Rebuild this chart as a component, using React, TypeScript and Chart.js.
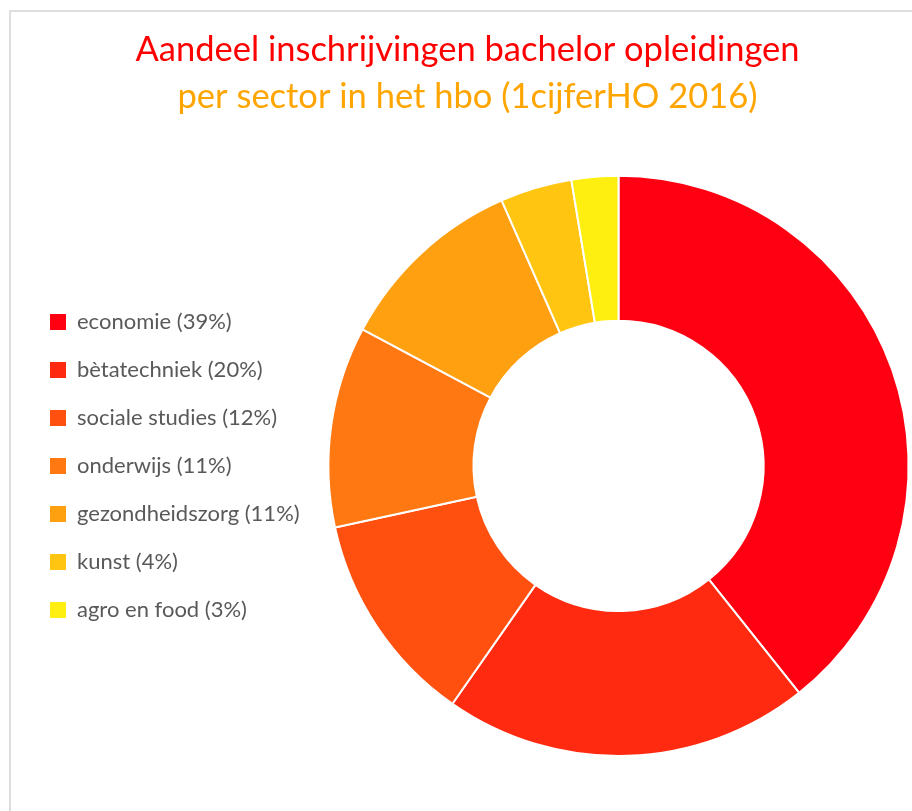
import React, { useEffect, useRef } from "react";
import { Chart, registerables, layouts } from "chart.js";

Chart.register(...registerables);

const TITLE = "Aandeel inschrijvingen bachelor opleidingen";
const SUBTITLE = "per sector in het hbo (1cijferHO 2016)";
const SECTORS = [
  "economie",
  "bètatechniek",
  "sociale studies",
  "onderwijs",
  "gezondheidszorg",
  "kunst",
  "agro en food",
];
const SHARES = [39.3, 20.4, 11.9, 11.2, 10.6, 4.0, 2.6];
const COLORS = [
  "#FF0012",
  "#FF2A10",
  "#FF5010",
  "#FF7812",
  "#FFA010",
  "#FFC510",
  "#FFEF10",
];

const FONT = "Lato, 'Open Sans', sans-serif";
const LEFT_BLOCK = 302; // legend + gap width

export default function App() {
  const ref = useRef<HTMLCanvasElement | null>(null);

  useEffect(() => {
    if (!ref.current) return;
    const labels = SECTORS.map((s, i) => `${s} (${Math.round(SHARES[i])}%)`);

    const gapPlugin = {
      id: "legendGap",
      beforeInit(chart: any) {
        const box: any = {
          position: "left",
          weight: 500,
          fullSize: false,
          options: { display: true, position: "left", weight: 500, fullSize: false },
          left: 0,
          top: 0,
          right: 0,
          bottom: 0,
          width: 0,
          height: 0,
          isHorizontal() {
            return false;
          },
          update(maxWidth: number, maxHeight: number) {
            const lw = chart.legend ? chart.legend.width : 0;
            this.width = Math.max(0, LEFT_BLOCK - lw);
            this.height = maxHeight;
          },
          draw() {},
        };
        layouts.addBox(chart, box);
      },
    };

    const chart = new Chart(ref.current, {
      type: "doughnut",
      data: {
        labels,
        datasets: [
          {
            data: SHARES,
            backgroundColor: COLORS,
            borderColor: "#ffffff",
            borderWidth: 2,
          },
        ],
      },
      plugins: [gapPlugin],
      options: {
        responsive: false,
        animation: false,
        cutout: "50%",
        layout: { padding: { left: 24, right: 1, top: 0, bottom: 54 } },
        plugins: {
          tooltip: { enabled: false },
          title: {
            display: true,
            text: TITLE,
            color: "#FF0000",
            font: { family: FONT, size: 34.5, weight: "normal" },
            padding: { top: 29, bottom: 2 },
          },
          subtitle: {
            display: true,
            text: SUBTITLE,
            color: "#FFA500",
            font: { family: FONT, size: 34.5, weight: "normal" },
            padding: { top: 4, bottom: 57 },
          },
          legend: {
            display: true,
            position: "left",
            align: "center",
            fullSize: false,
            maxWidth: 400,
            labels: {
              color: "#595959",
              font: { family: FONT, size: 22 },
              boxWidth: 16,
              boxHeight: 16,
              padding: 26,
              generateLabels: (c: any) =>
                (Chart as any).overrides.doughnut.plugins.legend.labels
                  .generateLabels(c)
                  .map((l: any) => ({ ...l, lineWidth: 0 })),
            },
          },
        },
      },
    });
    return () => chart.destroy();
  }, []);

  return (
    <div
      style={{
        position: "fixed",
        left: 0,
        top: 0,
        width: 912,
        height: 811,
        background: "#ffffff",
        overflow: "hidden",
      }}
    >
      <div
        style={{
          position: "absolute",
          left: 9,
          top: 10,
          width: 920,
          height: 820,
          borderTop: "2px solid #dedede",
          borderLeft: "2px solid #dedede",
        }}
      />
      <canvas
        ref={ref}
        width={912}
        height={811}
        style={{ position: "absolute", left: 0, top: 0 }}
      />
    </div>
  );
}
